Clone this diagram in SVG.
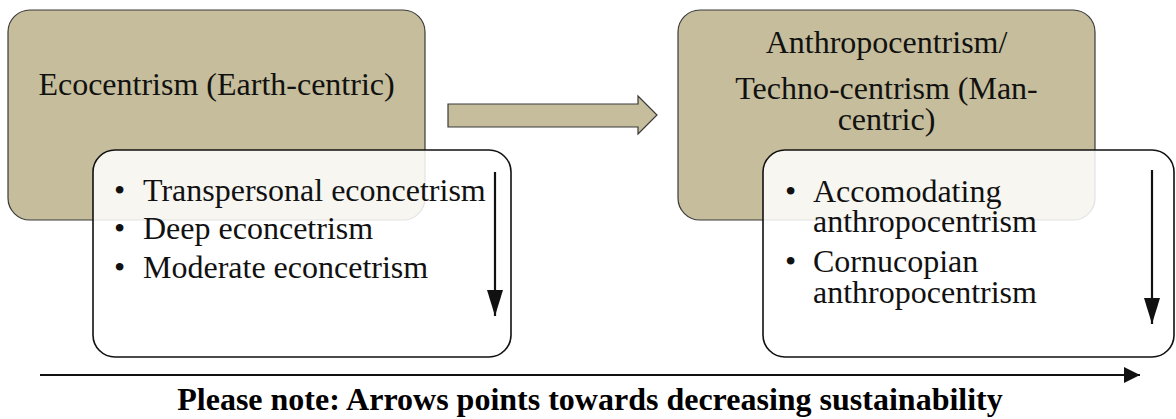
<svg xmlns="http://www.w3.org/2000/svg" width="1176" height="419" viewBox="0 0 1176 419">
  <defs>
    <style>
      .tan { fill: #c5bd9b; stroke: #3a3a3a; stroke-width: 1.2; }
      .card { fill: #ffffff; fill-opacity: 0.86; stroke: #111111; stroke-width: 1.6; }
      .title { font-family: "Liberation Serif", "Times New Roman", serif; font-size: 32px; fill: #111111; text-anchor: middle; }
      .item { font-family: "Liberation Serif", "Times New Roman", serif; font-size: 32px; fill: #111111; }
      .note { font-family: "Liberation Serif", "Times New Roman", serif; font-size: 32px; font-weight: bold; fill: #000000; text-anchor: middle; }
      .trend { stroke: #111111; stroke-width: 2.2; fill: none; }
    </style>
    <!-- long head for the in-list trend arrows -->
    <marker id="head-long" viewBox="0 0 26 16" refX="26" refY="8" markerWidth="26" markerHeight="16" markerUnits="userSpaceOnUse" orient="auto">
      <path d="M0,0 L26,8 L0,16 Z" fill="#111111"/>
    </marker>
    <!-- short head for the bottom trend arrow -->
    <marker id="head-short" viewBox="0 0 16 16" refX="16" refY="8" markerWidth="16" markerHeight="16" markerUnits="userSpaceOnUse" orient="auto">
      <path d="M0,0 L16,8 L0,16 Z" fill="#111111"/>
    </marker>
  </defs>

  <!-- Ecocentrism group -->
  <g id="ecocentrism">
    <rect class="tan" x="8" y="10" width="417" height="210" rx="22"/>
    <text class="title" x="216.5" y="95">Ecocentrism (Earth-centric)</text>
  </g>
  <g id="ecocentrism-list">
    <rect class="card" x="93" y="150" width="418" height="207" rx="22"/>
    <text class="item" x="114" y="201">•</text>
    <text class="item" x="143" y="201">Transpersonal econcetrism</text>
    <text class="item" x="114" y="239">•</text>
    <text class="item" x="143" y="239">Deep econcetrism</text>
    <text class="item" x="114" y="278">•</text>
    <text class="item" x="143" y="278">Moderate econcetrism</text>
  </g>

  <!-- Anthropocentrism group -->
  <g id="anthropocentrism">
    <rect class="tan" x="678" y="10" width="417" height="210" rx="22"/>
    <text class="title" x="886.5" y="53">Anthropocentrism/</text>
    <text class="title" x="886.5" y="99">Techno-centrism (Man-</text>
    <text class="title" x="886.5" y="130">centric)</text>
  </g>
  <g id="anthropocentrism-list">
    <rect class="card" x="763" y="150" width="411" height="207" rx="22"/>
    <text class="item" x="785" y="202">•</text>
    <text class="item" x="813" y="202">Accomodating</text>
    <text class="item" x="813" y="232">anthropocentrism</text>
    <text class="item" x="785" y="272">•</text>
    <text class="item" x="813" y="272">Cornucopian</text>
    <text class="item" x="813" y="303">anthropocentrism</text>
  </g>

  <!-- connectors -->
  <g id="connectors">
    <path class="tan" d="M448,104 L638,104 L638,96 L657,115 L638,134 L638,127 L448,127 Z"/>
    <line class="trend" x1="495" y1="172" x2="495" y2="316" marker-end="url(#head-long)"/>
    <line class="trend" x1="1152" y1="170" x2="1152" y2="324" marker-end="url(#head-long)"/>
    <line class="trend" x1="40" y1="375" x2="1140" y2="375" stroke-width="3" marker-end="url(#head-short)"/>
  </g>

  <text class="note" x="590" y="410">Please note: Arrows points towards decreasing sustainability</text>
</svg>
